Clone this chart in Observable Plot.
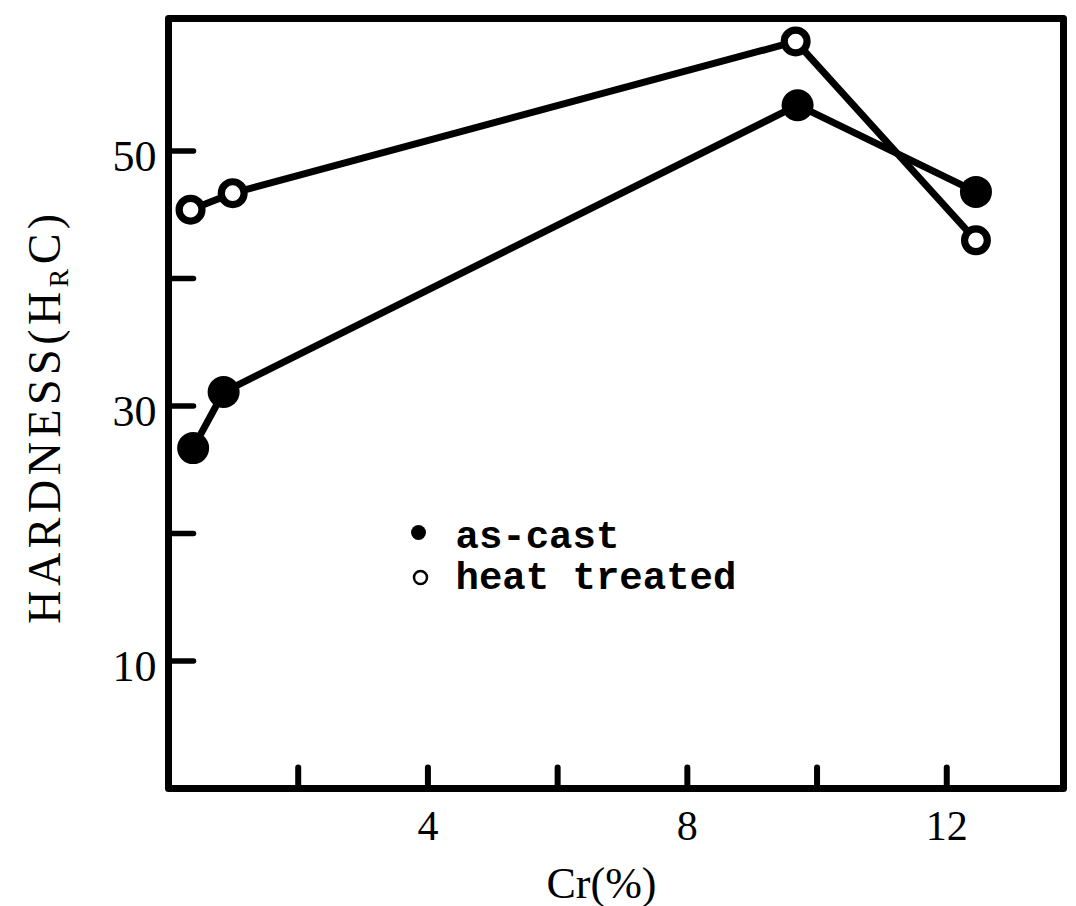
<!DOCTYPE html>
<html><head><meta charset="utf-8">
<script src="https://cdn.jsdelivr.net/npm/d3@7"></script>
<script src="https://cdn.jsdelivr.net/npm/@observablehq/plot@0.6"></script>
<style>html,body{margin:0;padding:0;background:#fff;} #chart{width:1076px;height:906px;}</style>
</head><body><div id="chart"></div>
<script>
// ---- data ----
const crAsCast  = [0.38, 0.85, 9.70, 12.45];
const hrcAsCast = [26.7, 31.1, 53.6, 46.8];
const crHeat    = [0.34, 0.99, 9.67, 12.45];
const hrcHeat   = [45.4, 46.7, 58.6, 43.0];
const xTicks = [2, 4, 6, 8, 10, 12];
const xTickLabels = [4, 8, 12];
const yTicks = [10, 20, 30, 40, 50];
const yTickLabels = [10, 30, 50];
const xTitle = "Cr(%)";
const yTitleParts = ["HARDNESS(H", "R", "C)"];
const legendLabels = ["as-cast", "heat treated"];

const asCast = crAsCast.map((cr, i) => ({cr, hrc: hrcAsCast[i]}));
const heat = crHeat.map((cr, i) => ({cr, hrc: hrcHeat[i]}));

const tickShape = {draw(ctx, l) { ctx.moveTo(0, 0); ctx.lineTo(0, -l); }};
const serif = "'Liberation Serif', 'Times New Roman', serif";
const mono = "'Liberation Mono', 'DejaVu Sans Mono', monospace";

const chart = Plot.plot({
  width: 1076, height: 906,
  marginLeft: 168, marginRight: 13, marginTop: 18, marginBottom: 118,
  x: {domain: [0, 13.8]},
  y: {domain: [0, 60.4]},
  style: {background: "#fff", color: "#000", overflow: "visible"},
  marks: [
    Plot.line(asCast, {x: "cr", y: "hrc", stroke: "#000", strokeWidth: 7, strokeLinejoin: "round", strokeLinecap: "round"}),
    Plot.line(heat, {x: "cr", y: "hrc", stroke: "#000", strokeWidth: 7, strokeLinejoin: "round", strokeLinecap: "round"}),
    Plot.dot(asCast, {x: "cr", y: "hrc", r: 16, fill: "#000", stroke: "none"}),
    Plot.dot(heat, {x: "cr", y: "hrc", r: 11.4, fill: "#fff", stroke: "#000", strokeWidth: 7.2}),
    Plot.vector(xTicks, {x: d => d, frameAnchor: "bottom", length: 21, rotate: 0, anchor: "start", shape: tickShape, stroke: "#000", strokeWidth: 6, strokeLinecap: "round"}),
    Plot.vector(yTicks, {y: d => d, frameAnchor: "left", length: 25, rotate: 90, anchor: "start", shape: tickShape, stroke: "#000", strokeWidth: 5.5, strokeLinecap: "round"}),
    Plot.frame({stroke: "#000", strokeWidth: 7, strokeLinejoin: "round"}),
    Plot.axisX(xTickLabels, {tickSize: 0, tickPadding: 22, fontSize: 42, fontFamily: serif, label: null}),
    Plot.axisY(yTickLabels, {tickSize: 0, tickPadding: 12, fontSize: 44, fontFamily: serif, dy: 6, label: null}),
    Plot.text([xTitle], {text: d => d, frameAnchor: "bottom", textAnchor: "middle", dx: -14.5, dy: 95, lineAnchor: "middle", fontSize: 44, fontFamily: serif}),
    Plot.text([yTitleParts.join("")], {text: d => d, frameAnchor: "left", textAnchor: "middle", rotate: -90, dx: -123, dy: 13, lineAnchor: "middle", fontSize: 46, fontFamily: serif}),
    Plot.dot([legendLabels[0]], {frameAnchor: "top-left", dx: 250, dy: 514, r: 7.5, fill: "#000", stroke: "none"}),
    Plot.dot([legendLabels[1]], {frameAnchor: "top-left", dx: 252, dy: 559, r: 6.5, fill: "#fff", stroke: "#000", strokeWidth: 2.5}),
    Plot.text([legendLabels[0]], {text: d => d, frameAnchor: "top-left", dx: 287, dy: 517, textAnchor: "start", lineAnchor: "middle", fontSize: 39, fontFamily: mono, fontWeight: "bold"}),
    Plot.text([legendLabels[1]], {text: d => d, frameAnchor: "top-left", dx: 287, dy: 558, textAnchor: "start", lineAnchor: "middle", fontSize: 39, fontFamily: mono, fontWeight: "bold"})
  ]
});

// subscript R in the y title
d3.select(chart).selectAll("text").each(function() {
  if (this.textContent === yTitleParts.join("")) {
    const t = d3.select(this);
    t.text(null);
    t.style("letter-spacing", "4.5px");
    t.append("tspan").text(yTitleParts[0]);
    t.append("tspan").attr("font-size", "60%").attr("dy", 8).text(yTitleParts[1]);
    t.append("tspan").attr("dy", -8).text(yTitleParts[2]);
  }
});

document.getElementById("chart").appendChild(chart);
</script>
</body></html>
